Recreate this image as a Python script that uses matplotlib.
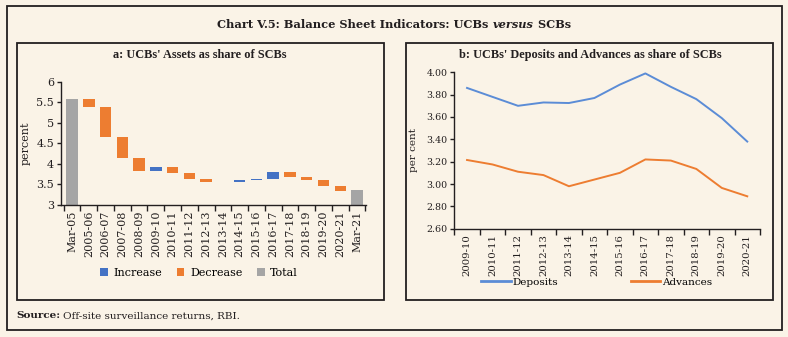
import matplotlib
matplotlib.use("Agg")
import matplotlib.pyplot as plt
from matplotlib.patches import Rectangle, Patch
from matplotlib.lines import Line2D
import numpy as np

# ---------------- data ----------------
wf_labels = ["Mar-05", "2005-06", "2006-07", "2007-08", "2008-09", "2009-10",
             "2010-11", "2011-12", "2012-13", "2013-14", "2014-15", "2015-16",
             "2016-17", "2017-18", "2018-19", "2019-20", "2020-21", "Mar-21"]
# level (per cent) at the end of each period; first and last are totals
wf_levels = [5.58, 5.39, 4.66, 4.15, 3.83, 3.92, 3.78, 3.64, 3.55, 3.55,
             3.60, 3.63, 3.80, 3.69, 3.61, 3.47, 3.35, 3.36]

line_years = ["2009-10", "2010-11", "2011-12", "2012-13", "2013-14", "2014-15",
              "2015-16", "2016-17", "2017-18", "2018-19", "2019-20", "2020-21"]
deposits = [3.86, 3.78, 3.70, 3.73, 3.725, 3.77, 3.89, 3.99, 3.87, 3.76, 3.59, 3.38]
advances = [3.215, 3.175, 3.11, 3.08, 2.98, 3.04, 3.10, 3.22, 3.21, 3.135, 2.965, 2.89]

# ---------------- style ----------------
W, H = 788, 337
BG = "#FAF3E7"
EDGE = "#231F20"
C_INC = "#4472C4"
C_DEC = "#ED7D31"
C_TOT = "#A5A5A5"
C_DEP = "#5B8CD6"
C_ADV = "#ED7D31"
SERIF = ["DejaVu Serif"]
TITLE_FONT = ["Liberation Serif"]

fig = plt.figure(figsize=(W / 100, H / 100), dpi=100, facecolor=BG)


def fx(x):
    return x / W


def fy(y):
    return 1 - y / H


def add_box(x0, y0, x1, y1, lw=1.3):
    fig.patches.append(Rectangle((fx(x0), fy(y1)), fx(x1) - fx(x0), fy(y0) - fy(y1),
                                 transform=fig.transFigure, fill=False,
                                 edgecolor=EDGE, linewidth=lw, zorder=0))


# frames
add_box(7, 6, 782, 330, lw=1.3)
add_box(16.5, 42.5, 384.5, 299.5, lw=1.3)
add_box(405.5, 42.5, 773, 299.5, lw=1.3)

# ---------------- panel a: waterfall ----------------
axL = fig.add_axes([fx(61), fy(205), fx(365.7) - fx(61), fy(81.7) - fy(205)])
axL.set_facecolor("none")
n = len(wf_levels)
xs = np.arange(n)
bottoms, heights, colors = [], [], []
for i, v in enumerate(wf_levels):
    if i == 0 or i == n - 1:
        bottoms.append(0)
        heights.append(v)
        colors.append(C_TOT)
    else:
        prev = wf_levels[i - 1]
        bottoms.append(min(prev, v))
        heights.append(abs(v - prev))
        colors.append(C_INC if v > prev else C_DEC)
axL.bar(xs, heights, bottom=bottoms, color=colors, width=0.68, linewidth=0)
axL.set_xlim(-0.66, n - 0.48)
axL.set_ylim(3, 6)
axL.set_yticks(np.arange(3, 6.01, 0.5))
axL.set_yticklabels(["3", "3.5", "4", "4.5", "5", "5.5", "6"])
axL.set_xticks(xs)
axL.set_xticklabels(wf_labels, rotation=90)
axL.set_xticks(np.arange(-0.5, n, 1.0), minor=True)
axL.tick_params(axis="x", which="major", length=0, pad=4)
axL.tick_params(axis="x", which="minor", length=4, width=1, color=EDGE, direction="out")
axL.tick_params(axis="y", length=3, width=1, color=EDGE, pad=2)
for lab in axL.get_xticklabels() + axL.get_yticklabels():
    lab.set_family(SERIF)
    lab.set_fontsize(8)
    lab.set_color(EDGE)
for s in ["top", "right"]:
    axL.spines[s].set_visible(False)
for s in ["left", "bottom"]:
    axL.spines[s].set_color(EDGE)
    axL.spines[s].set_linewidth(1)
axL.set_ylabel("percent", family=SERIF, fontsize=8, color=EDGE, labelpad=4)

fig.text(fx(200), fy(55), "a: UCBs' Assets as share of SCBs", ha="center",
         va="center", fontsize=8.8, fontweight="bold", family=TITLE_FONT, color=EDGE)

handlesL = [Patch(facecolor=C_INC, label="Increase"),
            Patch(facecolor=C_DEC, label="Decrease"),
            Patch(facecolor=C_TOT, label="Total")]
fig.legend(handles=handlesL, loc="center", bbox_to_anchor=(fx(199), fy(273)),
           ncol=3, frameon=False, handlelength=0.7, handleheight=0.7,
           handletextpad=0.5, columnspacing=1.3,
           prop={"family": SERIF, "size": 8})

# ---------------- panel b: lines ----------------
axR = fig.add_axes([fx(454.3), fy(228.7), fx(760) - fx(454.3), fy(72.3) - fy(228.7)])
axR.set_facecolor("none")
xr = np.arange(len(line_years))
axR.plot(xr, deposits, color=C_DEP, linewidth=1.4, label="Deposits")
axR.plot(xr, advances, color=C_ADV, linewidth=1.4, label="Advances")
axR.set_xlim(-0.5, len(line_years) - 0.5)
axR.set_ylim(2.6, 4.0)
axR.set_yticks(np.arange(2.6, 4.001, 0.2))
axR.set_yticklabels([f"{v:.2f}" for v in np.arange(2.6, 4.001, 0.2)])
axR.set_xticks(xr)
axR.set_xticklabels(line_years, rotation=90)
axR.set_xticks(np.arange(-0.5, len(line_years), 1.0), minor=True)
axR.tick_params(axis="x", which="major", length=0, pad=4)
axR.tick_params(axis="x", which="minor", length=4, width=1, color=EDGE, direction="out")
axR.tick_params(axis="y", length=3, width=1, color=EDGE, pad=2)
for lab in axR.get_xticklabels():
    lab.set_family(SERIF)
    lab.set_fontsize(7.3)
    lab.set_color(EDGE)
for lab in axR.get_yticklabels():
    lab.set_family(SERIF)
    lab.set_fontsize(6.8)
    lab.set_color(EDGE)
for s in ["top", "right"]:
    axR.spines[s].set_visible(False)
for s in ["left", "bottom"]:
    axR.spines[s].set_color(EDGE)
    axR.spines[s].set_linewidth(1)
axR.set_ylabel("per cent", family=SERIF, fontsize=7.5, color=EDGE, labelpad=6)

fig.text(fx(590), fy(55), "b: UCBs' Deposits and Advances as share of SCBs",
         ha="center", va="center", fontsize=8.8, fontweight="bold",
         family=TITLE_FONT, color=EDGE)

handlesR = [Line2D([], [], color=C_DEP, linewidth=2, label="Deposits"),
            Line2D([], [], color=C_ADV, linewidth=2, label="Advances")]
fig.legend(handles=handlesR, loc="center", bbox_to_anchor=(fx(597), fy(282)),
           ncol=2, frameon=False, handlelength=2.8, handletextpad=0.2,
           columnspacing=7.0, prop={"family": SERIF, "size": 7.5})

# ---------------- title and source (pieced together) ----------------
fig.canvas.draw()
renderer = fig.canvas.get_renderer()

parts = [("Chart V.5: Balance Sheet Indicators: UCBs ", "normal"),
         ("versus", "italic"),
         (" SCBs", "normal")]
tmp = []
total_w = 0
for txt, style in parts:
    t = fig.text(0, 0, txt, fontsize=8.2, fontweight="bold", style=style,
                 family=SERIF, color=EDGE)
    w = t.get_window_extent(renderer).width
    tmp.append((t, w))
    total_w += w
xcur = 394 - total_w / 2
for t, w in tmp:
    t.set_position((fx(xcur), fy(24)))
    t.set_va("center")
    xcur += w

src_bold = fig.text(fx(16), fy(316), "Source:", ha="left", va="center",
                    fontsize=7.5, family=SERIF, fontweight="bold", color=EDGE)
bb = src_bold.get_window_extent(renderer)
fig.text(fx(bb.x1 + 3), fy(316), "Off-site surveillance returns, RBI.", ha="left",
         va="center", fontsize=7.5, family=SERIF, color=EDGE)

fig.savefig("out.png", dpi=100, facecolor=BG)
